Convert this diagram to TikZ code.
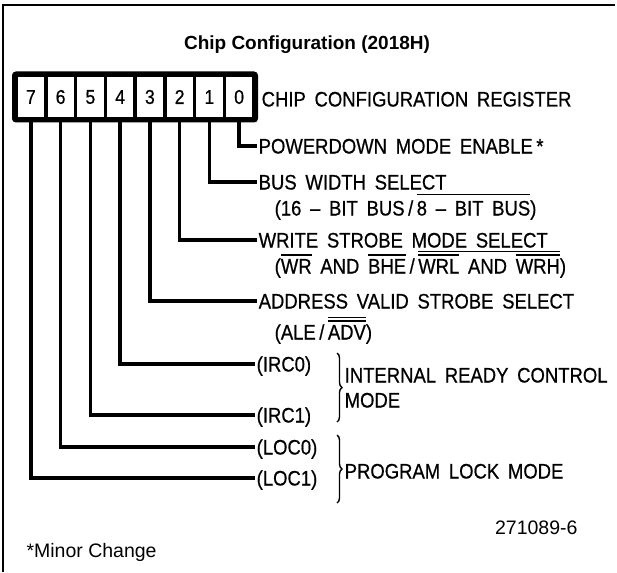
\documentclass[tikz,border=0pt]{standalone}
\usepackage{fontspec}
\setmainfont{Liberation Sans}
\newfontfamily\plotfont[FakeStretch=0.88,FakeBold=0.6,WordSpace=1.7]{Liberation Sans}
\usetikzlibrary{fit,decorations.pathreplacing}
\newcommand\ovl[2][18pt]{\setbox0\hbox{#2}\rlap{\rule[#1]{\wd0}{1.3pt}}\box0\relax}
\tikzset{
  cell/.style={draw, line width=3.5pt, minimum width=29.75pt, minimum height=43pt, inner sep=0pt,
    font=\plotfont\fontsize{20}{22}\selectfont},
  regframe/.style={draw, line width=4.5pt, rounded corners=2pt, inner sep=0pt},
  lbl/.style={font=\plotfont\fontsize{21}{24}\selectfont, anchor=west, inner xsep=1.5pt, inner ysep=0pt,
    text height=15pt, text depth=0pt},
  wire/.style={line width=3.5pt},
  brc/.style={line width=1.4pt, decorate, decoration={brace, amplitude=5pt}},
  frame/.style={line width=1.5pt},
}
\begin{document}
\begin{tikzpicture}[x=1pt,y=-1pt]
\useasboundingbox (0,0) rectangle (617,572);
\draw[frame] (3,572) -- (3,5) -- (615,5);
\node[font=\bfseries\fontsize{19}{22}\selectfont] (title) at (307,45) {Chip Configuration (2018H)};
\foreach \b in {7,6,5,4,3,2,1,0}
  \node[cell] (c\b) at ({30.875+29.75*(7-\b)},97) {\b};
\node[regframe, fit=(c7)(c0)] (reg) {};
\node[lbl] (regl) at (260,99) {CHIP CONFIGURATION REGISTER};
\node[lbl] (t0) at (257,146) {POWERDOWN MODE ENABLE\,*};
\node[lbl] (t1) at (257,182) {BUS WIDTH SELECT};
\node[lbl] (t1b) at (273,208) {(16 – BIT BUS\,/\,\ovl[20.5pt]{8 – BIT BUS})};
\node[lbl] (t2) at (257,240) {WRITE STROBE MODE SELECT};
\node[lbl] (t2b) at (273,266) {(\ovl{WR} AND \ovl{BHE}\,/\,\ovl[21.5pt]{\ovl{WRL} AND \ovl{WRH}})};
\node[lbl] (t3) at (257,301) {ADDRESS VALID STROBE SELECT};
\node[lbl] (t3b) at (273,332) {(ALE\,/\,\ovl[21.5pt]{\ovl{ADV}})};
\node[lbl] (t4) at (255,364) {(IRC0)};
\node[lbl] (t5) at (255,415) {(IRC1)};
\node[lbl] (t6) at (255,447) {(LOC0)};
\node[lbl] (t7) at (255,478) {(LOC1)};
\coordinate (ia) at (337,353);
\coordinate (ib) at (337,422);
\coordinate (la) at (337,435);
\coordinate (lb) at (337,503);
\draw[brc] (ia) -- (ib);
\draw[brc] (la) -- (lb);
\node[lbl] (irc) at (343,375) {INTERNAL READY CONTROL};
\node[lbl] (ircm) at (343,400) {MODE};
\node[lbl] (loc) at (343,471) {PROGRAM LOCK MODE};
\foreach \b in {0,...,7}
  \draw[wire] (c\b.south) |- (t\b.west);
\node[anchor=base east, font=\fontsize{19.5}{22}\selectfont] (fig) at (581,534) {271089-6};
\node[anchor=base west, font=\fontsize{19.5}{22}\selectfont] (note) at (23,557) {*Minor Change};
\end{tikzpicture}
\end{document}
